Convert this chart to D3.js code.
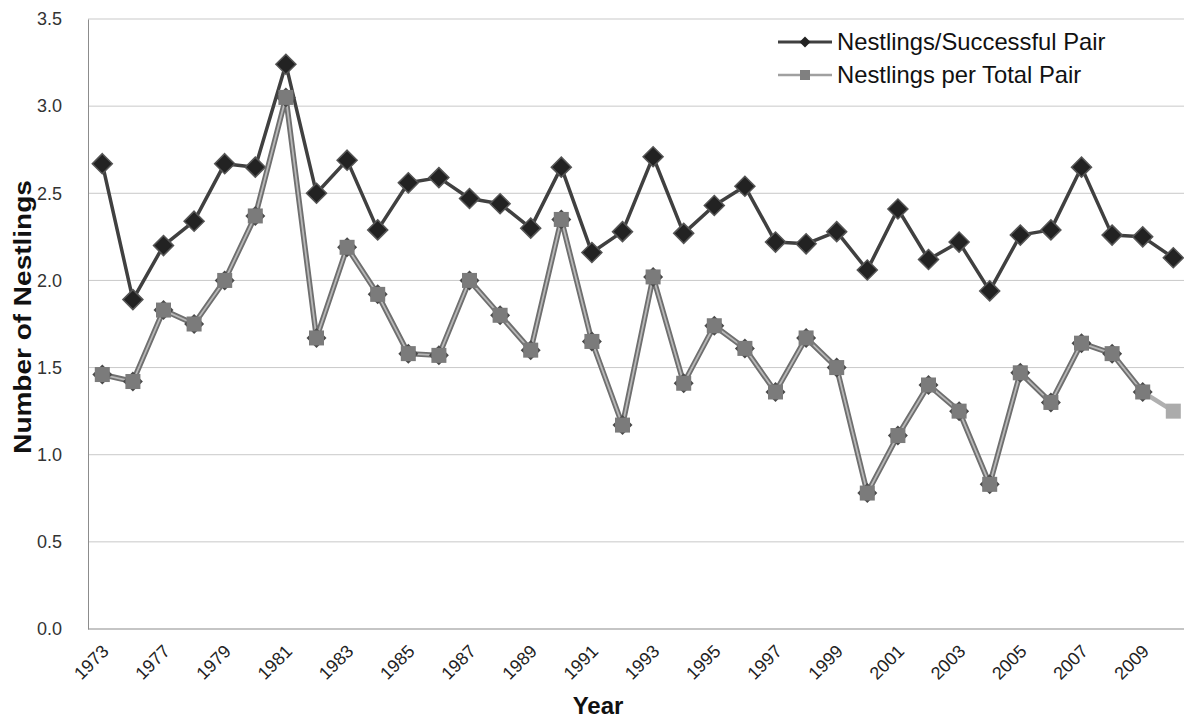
<!DOCTYPE html>
<html>
<head>
<meta charset="utf-8">
<script src="https://cdn.jsdelivr.net/npm/d3@7"></script>
<style>
  html, body { margin: 0; padding: 0; background: #fff; }
  svg { display: block; font-family: "Liberation Sans", Arial, sans-serif; }
</style>
</head>
<body>
<svg id="chart" width="1184" height="719"></svg>
<script>
// ---- data ----
const years = ["1973","1975","1977","1978","1979","1980","1981","1982","1983","1984","1985","1986",
  "1987","1988","1989","1990","1991","1992","1993","1994","1995","1996","1997","1998","1999",
  "2000","2001","2002","2003","2004","2005","2006","2007","2008","2009","2010"];
const tickYears = ["1973","1977","1979","1981","1983","1985","1987","1989","1991","1993","1995",
  "1997","1999","2001","2003","2005","2007","2009"];
const successfulPair = [2.67,1.89,2.20,2.34,2.67,2.65,3.24,2.50,2.69,2.29,2.56,2.59,
  2.47,2.44,2.30,2.65,2.16,2.28,2.71,2.27,2.43,2.54,2.22,2.21,2.28,
  2.06,2.41,2.12,2.22,1.94,2.26,2.29,2.65,2.26,2.25,2.13];
const totalPair = [1.46,1.42,1.83,1.75,2.00,2.37,3.05,1.67,2.19,1.92,1.58,1.57,
  2.00,1.80,1.60,2.35,1.65,1.17,2.02,1.41,1.74,1.61,1.36,1.67,1.50,
  0.78,1.11,1.40,1.25,0.83,1.47,1.30,1.64,1.58,1.36,1.25];
const yTicks = [0,0.5,1.0,1.5,2.0,2.5,3.0,3.5];
const seriesNames = ["Nestlings/Successful Pair","Nestlings per Total Pair"];

// ---- layout ----
const svg = d3.select("#chart");
const plotL = 88, plotR = 1184, plotT = 19, plotB = 629;
const x = d3.scaleBand().domain(years).range([87, 87 + 36 * 30.6]).padding(0);
const cx = d => x(d) + x.bandwidth() / 2;
const y = d3.scaleLinear().domain([0, 3.5]).range([plotB, plotT]);

// gridlines
svg.append("g").selectAll("line").data(yTicks.filter(v => v > 0)).join("line")
  .attr("x1", plotL).attr("x2", plotR)
  .attr("y1", d => y(d)).attr("y2", d => y(d))
  .attr("stroke", "#c9c9c9").attr("stroke-width", 1);

// y axis
const yAxis = d3.axisLeft(y).tickValues(yTicks).tickFormat(d3.format(".1f")).tickSize(0).tickPadding(26);
const yg = svg.append("g").attr("transform", `translate(${plotL},0)`).call(yAxis);
yg.select(".domain").attr("stroke", "#8c8c8c");
yg.selectAll("text").attr("font-size", 18).attr("fill", "#333")
  .attr("font-family", "Liberation Sans, Arial, sans-serif");

// x axis line
svg.append("line").attr("x1", plotL).attr("x2", plotR).attr("y1", plotB).attr("y2", plotB)
  .attr("stroke", "#8c8c8c").attr("stroke-width", 1.2);

// x labels
svg.append("g").selectAll("text").data(tickYears).join("text")
  .attr("transform", d => `translate(${cx(d) + 3},${648}) rotate(-45)`)
  .attr("text-anchor", "end").attr("dy", "0.35em")
  .attr("font-size", 18).attr("fill", "#222").text(d => d);

// axis titles
svg.append("text").attr("x", 598).attr("y", 714).attr("text-anchor", "middle")
  .attr("font-size", 24).attr("font-weight", "bold").attr("fill", "#111").text("Year");
svg.append("text").attr("transform", "translate(31,317) rotate(-90) scale(1,0.85)").attr("text-anchor", "middle")
  .attr("font-size", 28).attr("font-weight", "bold").attr("fill", "#111").text("Number of Nestlings");

// series 1 line + markers
const line = d3.line().x((d, i) => cx(years[i])).y(d => y(d));
svg.append("path").attr("d", line(successfulPair)).attr("fill", "none")
  .attr("stroke", "#404040").attr("stroke-width", 3.5).attr("stroke-linejoin", "round");
const diamond = r => `M0,${-r}L${r},0L0,${r}L${-r},0Z`;
svg.append("g").selectAll("path").data(successfulPair).join("path")
  .attr("transform", (d, i) => `translate(${cx(years[i])},${y(d)})`)
  .attr("d", diamond(10)).attr("fill", "#222").attr("stroke", "#555").attr("stroke-width", 1.5);

// series 2 line (double) + markers
const n = totalPair.length;
const mainPart = totalPair.slice(0, n - 1);
svg.append("path").attr("d", line(mainPart)).attr("fill", "none")
  .attr("stroke", "#6f6f6f").attr("stroke-width", 5.5).attr("stroke-linejoin", "round");
svg.append("path").attr("d", line(mainPart)).attr("fill", "none")
  .attr("stroke", "#b8b8b8").attr("stroke-width", 1.8).attr("stroke-linejoin", "round");
// last lighter segment
svg.append("line")
  .attr("x1", cx(years[n - 2])).attr("y1", y(totalPair[n - 2]))
  .attr("x2", cx(years[n - 1])).attr("y2", y(totalPair[n - 1]))
  .attr("stroke", "#b0b0b0").attr("stroke-width", 4.5);
const g2 = svg.append("g").selectAll("g").data(mainPart).join("g")
  .attr("transform", (d, i) => `translate(${cx(years[i])},${y(d)})`);
g2.append("path").attr("d", diamond(10)).attr("fill", "#4a4a4a");
g2.append("rect").attr("x", -7.5).attr("y", -7.5).attr("width", 15).attr("height", 15).attr("fill", "#7b7b7b");
svg.append("rect")
  .attr("x", cx(years[n - 1]) - 7.5).attr("y", y(totalPair[n - 1]) - 7.5)
  .attr("width", 15).attr("height", 15).attr("fill", "#ababab");

// legend
const lg = svg.append("g");
lg.append("line").attr("x1", 778).attr("x2", 832).attr("y1", 42).attr("y2", 42)
  .attr("stroke", "#404040").attr("stroke-width", 3);
lg.append("path").attr("transform", "translate(805,42)").attr("d", diamond(5.5)).attr("fill", "#222");
lg.append("text").attr("x", 837).attr("y", 50).attr("font-size", 23.8).attr("fill", "#111").text(seriesNames[0]);
lg.append("line").attr("x1", 778).attr("x2", 832).attr("y1", 75).attr("y2", 75)
  .attr("stroke", "#a0a0a0").attr("stroke-width", 2.5);
lg.append("rect").attr("x", 800).attr("y", 70).attr("width", 10).attr("height", 10).attr("fill", "#808080");
lg.append("text").attr("x", 837).attr("y", 83).attr("font-size", 23.8).attr("fill", "#111").text(seriesNames[1]);
</script>
</body>
</html>
